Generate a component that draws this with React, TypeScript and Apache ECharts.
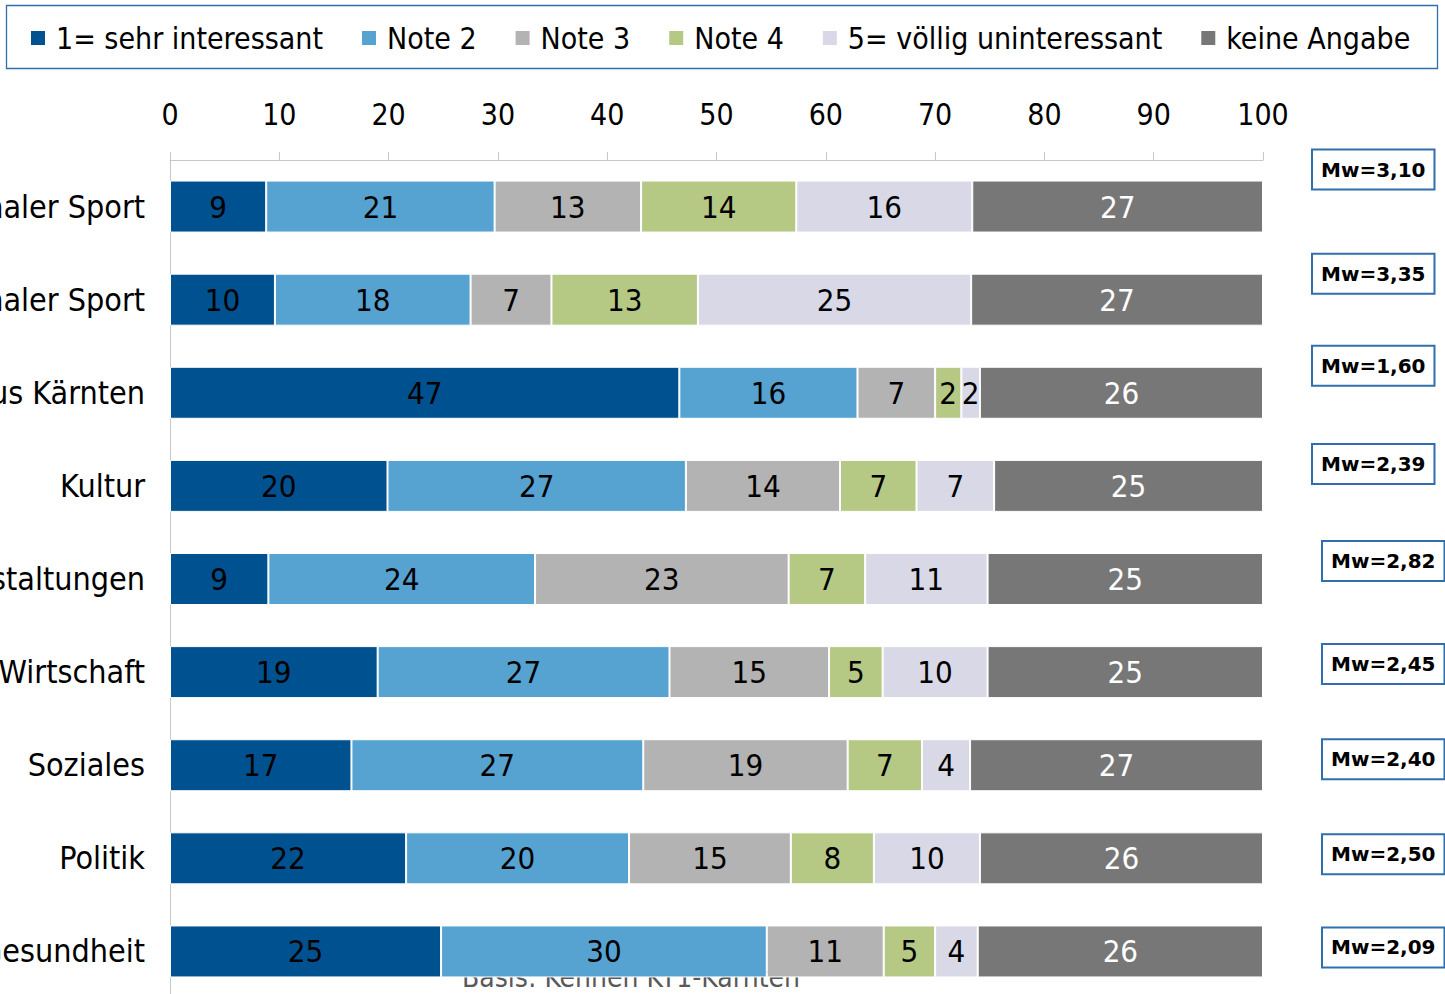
import React, { useEffect, useRef } from "react";
import * as echarts from "echarts";

const categories = [
  "Internationaler Sport",
  "Nationaler Sport",
  "Sport aus Kärnten",
  "Kultur",
  "Veranstaltungen",
  "Wirtschaft",
  "Soziales",
  "Politik",
  "Gesundheit",
];

const seriesNames = [
  "1= sehr interessant",
  "Note 2",
  "Note 3",
  "Note 4",
  "5= völlig uninteressant",
  "keine Angabe",
];

const note1 = [8.8, 9.6, 46.6, 19.9, 9.0, 19.0, 16.6, 21.6, 24.8];
const note2 = [20.9, 17.9, 16.3, 27.3, 24.4, 26.7, 26.7, 20.4, 29.8];
const note3 = [13.4, 7.4, 7.1, 14.1, 23.2, 14.6, 18.7, 14.8, 10.7];
const note4 = [14.2, 13.4, 2.4, 7.0, 7.0, 4.9, 6.8, 7.6, 4.7];
const note5 = [16.1, 25.0, 1.7, 7.1, 11.2, 9.6, 4.4, 9.7, 3.9];
const keineAngabe = [26.6, 26.7, 25.9, 24.6, 25.2, 25.2, 26.8, 25.9, 26.1];

const mwValues = [3.1, 3.35, 1.6, 2.39, 2.82, 2.45, 2.4, 2.5, 2.09];

const xTicks = [0, 10, 20, 30, 40, 50, 60, 70, 80, 90, 100];

const colors = ["#00518f", "#56a3d1", "#b3b3b3", "#b5c985", "#d9d8e7", "#777777"];
const labelColors = ["#000", "#000", "#000", "#000", "#000", "#fff"];

// label box offsets (style only)
const mwOffsetX = [50, 50, 50, 50, 60, 60, 60, 60, 60];
const mwOffsetY = [-37, -26, -27, -22, -18, -8, -6, -4, -4];

const FONT = "'DejaVu Sans Condensed', 'Liberation Sans Narrow', sans-serif";

export default function App() {
  const ref = useRef<HTMLDivElement>(null);

  useEffect(() => {
    if (!ref.current) return;
    const chart = echarts.init(ref.current, undefined, { renderer: "svg" });
    const dataSets = [note1, note2, note3, note4, note5, keineAngabe];

    const barSeries = dataSets.map((d, si) => ({
      name: seriesNames[si],
      type: "bar",
      stack: "total",
      barWidth: 52,
      data: d,
      itemStyle: { color: colors[si], borderColor: "#ffffff", borderWidth: 1 },
      label: {
        show: true,
        position: "inside",
        formatter: (p: any) => String(Math.round(p.value)),
        color: labelColors[si],
        fontFamily: FONT,
        fontSize: 31,
      },
      z: 3,
    }));

    const mwSeries = {
      name: "Mw",
      type: "bar",
      stack: "total",
      barWidth: 52,
      silent: true,
      itemStyle: { color: "transparent" },
      data: mwValues.map((v, i) => ({
        value: 0,
        label: {
          offset: [mwOffsetX[i], mwOffsetY[i]],
        },
      })),
      label: {
        show: true,
        position: "right",
        distance: 0,
        formatter: (p: any) => "Mw=" + mwValues[p.dataIndex].toFixed(2).replace(".", ","),
        fontFamily: "'DejaVu Sans', sans-serif",
        fontWeight: "bold",
        fontSize: 20,
        lineHeight: 24,
        color: "#000",
        backgroundColor: "#ffffff",
        borderColor: "#2f6fad",
        borderWidth: 2,
        padding: [7, 8, 7, 8],
      },
      z: 4,
    };

    chart.setOption({
      animation: false,
      backgroundColor: "#ffffff",
      legend: {
        data: seriesNames,
        left: 24,
        top: 17,
        itemWidth: 26,
        itemHeight: 16,
        itemGap: 37,
        icon: "path://M0,0h16v16h-16z",
        textStyle: { fontFamily: FONT, fontSize: 30, color: "#000", lineHeight: 32 },
      },
      graphic: [
        {
          type: "rect",
          shape: { x: 6.5, y: 5.5, width: 1431, height: 63 },
          style: { fill: "none", stroke: "#2f6fad", lineWidth: 1.3 },
          z: 10,
          silent: true,
        },
        {
          type: "text",
          x: 631,
          y: 991,
          z: 0,
          style: {
            text: "Basis: Kennen KT1-Kärnten",
            fontFamily: FONT,
            fontSize: 28,
            fill: "#595959",
            textAlign: "center",
            textVerticalAlign: "bottom",
          },
        },
      ],
      grid: {
        left: 170,
        top: 160,
        right: 182,
        height: 838,
        containLabel: false,
        outerBoundsMode: "none",
      },
      xAxis: {
        type: "value",
        position: "top",
        min: xTicks[0],
        max: xTicks[xTicks.length - 1],
        interval: xTicks[1] - xTicks[0],
        axisLine: { show: true, lineStyle: { color: "#c8c8c8", width: 1 } },
        axisTick: { show: true, length: 8, lineStyle: { color: "#c8c8c8" } },
        splitLine: { show: false },
        axisLabel: { fontFamily: FONT, fontSize: 30, color: "#000", margin: 31 },
      },
      yAxis: {
        type: "category",
        inverse: true,
        data: categories,
        axisLine: { show: true, lineStyle: { color: "#c8c8c8", width: 1 } },
        axisTick: { show: false },
        axisLabel: { fontFamily: FONT, fontSize: 32, color: "#000", margin: 25 },
      },
      series: [...barSeries, mwSeries],
    });

    return () => chart.dispose();
  }, []);

  return (
    <div
      ref={ref}
      style={{ position: "fixed", left: 0, top: 0, width: 1445, height: 994, background: "#fff" }}
    />
  );
}
